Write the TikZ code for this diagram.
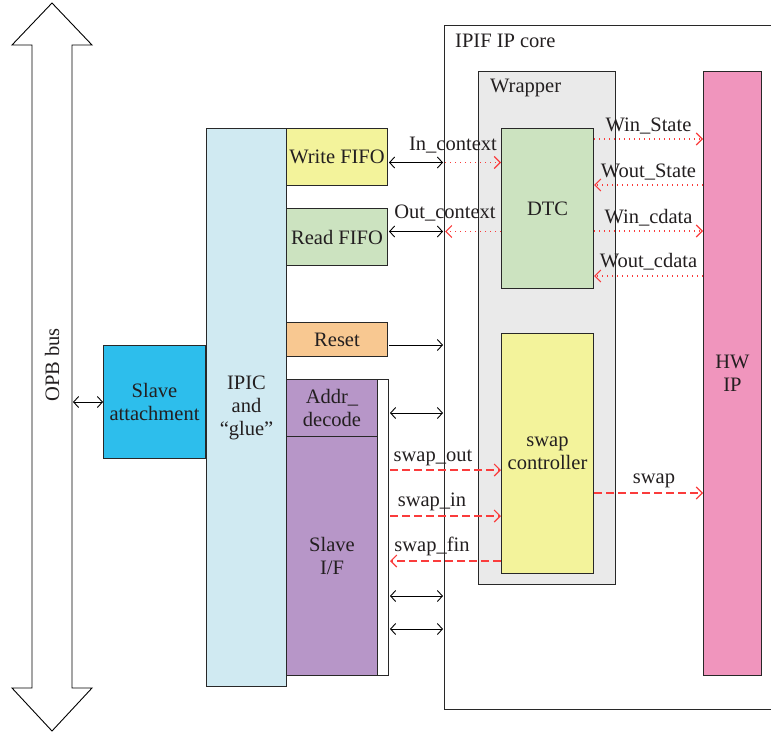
\documentclass[tikz,border=0pt]{standalone}
\usepackage{fontspec}
\setmainfont{Liberation Serif}
\usetikzlibrary{arrows.meta,calc}
\definecolor{txt}{RGB}{35,31,32}
\definecolor{edge}{RGB}{40,40,40}
\definecolor{cyanbox}{RGB}{45,190,236}
\definecolor{ipicbox}{RGB}{208,234,242}
\definecolor{yelbox}{RGB}{243,243,155}
\definecolor{grnbox}{RGB}{204,227,192}
\definecolor{orgbox}{RGB}{248,200,145}
\definecolor{purbox}{RGB}{183,150,200}
\definecolor{graybox}{RGB}{234,234,234}
\definecolor{pinkbox}{RGB}{240,149,189}
\definecolor{sigred}{RGB}{250,60,60}
\tikzset{
  every node/.style={text=txt, font=\fontsize{20.5}{23}\selectfont},
  blk/.style={draw=edge, line width=1pt, inner sep=0pt, anchor=north west, align=center},
  dbl/.style={draw=black, line width=0.9pt, {Straight Barb[length=5pt,width=11pt]}-{Straight Barb[length=5pt,width=11pt]}},
  sgl/.style={draw=black, line width=0.9pt, -{Straight Barb[length=5pt,width=11pt]}},
  dotsig/.style={draw=sigred, line width=1.1pt, dash pattern=on 1.1pt off 3.9pt, -{Straight Barb[length=6pt,width=12pt]}},
  dashsig/.style={draw=sigred, line width=1.1pt, dash pattern=on 8pt off 4pt, -{Straight Barb[length=6pt,width=12pt]}},
  lbl/.style={anchor=base, inner sep=0pt},
}
\begin{document}
\begin{tikzpicture}[x=1pt,y=-1pt]
\useasboundingbox (0,0) rectangle (771,734);

% OPB bus block arrow
\draw[line width=0.9pt, draw=black, fill=white, line join=miter]
  (52,3) -- (92,45) -- (72,45) -- (72,688) -- (92,688) -- (52,731)
  -- (12,688) -- (32,688) -- (32,45) -- (12,45) -- cycle;
\node[rotate=90, inner sep=0pt] (opb) at (52,365) {OPB bus};
\coordinate (busR) at (73,365);

% IPIF IP core frame and wrapper
\node[blk, minimum width=340pt, minimum height=684pt] (ipif) at (444,25) {};
\node[anchor=north west, inner sep=0pt] (ipiflbl) at (455,34) {IPIF IP core};
\node[blk, fill=graybox, minimum width=137pt, minimum height=513pt] (wrap) at (478,71) {};
\node[anchor=north west, inner sep=0pt] (wraplbl) at (490,79) {Wrapper};

% left-hand blocks
\node[blk, fill=cyanbox, minimum width=102pt, minimum height=113pt] (sa) at (103,345) {Slave\\attachment};
\node[blk, fill=ipicbox, minimum width=80pt, minimum height=558pt] (ipic) at (206,128) {IPIC\\and\\“glue”};
\node[blk, fill=yelbox, minimum width=101pt, minimum height=57pt] (wfifo) at (286,128) {\raisebox{-3pt}{Write FIFO}};
\node[blk, fill=grnbox, minimum width=101pt, minimum height=57pt] (rfifo) at (286,208) {\raisebox{-3pt}{Read FIFO}};
\node[blk, fill=orgbox, minimum width=101pt, minimum height=34pt] (reset) at (286,322) {Reset};
\node[blk, fill=white, minimum width=102pt, minimum height=296pt] (strip) at (286,379) {};
\node[blk, fill=purbox, minimum width=91pt, minimum height=57pt] (addr) at (286,379) {Addr\_\\decode};
\node[blk, fill=purbox, minimum width=91pt, minimum height=239pt] (sif) at (286,436) {Slave\\I/F};

% inner blocks
\node[blk, fill=grnbox, minimum width=92pt, minimum height=160pt] (dtc) at (501,128) {DTC};
\node[blk, fill=yelbox, minimum width=92pt, minimum height=240pt] (swapc) at (501,333) {swap\\controller};
\node[blk, fill=pinkbox, minimum width=58pt, minimum height=604pt] (hw) at (703,71) {HW\\IP};

% bus to slave attachment
\draw[dbl] (sa.west) -- (sa.west -| busR);

% FIFO context links
\coordinate (inc) at ([yshift=-5.5pt]wfifo.east);
\coordinate (outc) at ([yshift=5.5pt]rfifo.east);
\draw[dbl] ([xshift=1pt]inc) -- ([xshift=-1pt]inc -| ipif.west);
\draw[dotsig] ([xshift=1pt]inc -| ipif.west) -- (inc -| dtc.west);
\draw[dbl] ([xshift=1pt]outc) -- ([xshift=-1pt]outc -| ipif.west);
\draw[dotsig] (outc -| dtc.west) -- ([xshift=1pt]outc -| ipif.west);
\node[lbl] (linc) at (453,150) {In\_context};
\node[lbl] (loutc) at (445,218) {Out\_context};

% reset
\coordinate (rst) at ([yshift=-5.5pt]reset.east);
\draw[sgl] ([xshift=1pt]rst) -- ([xshift=-1pt]rst -| ipif.west);

% DTC to HW IP
\coordinate (w1) at (dtc.east |- 0,139);
\coordinate (w2) at (dtc.east |- 0,185);
\coordinate (w3) at (dtc.east |- 0,231);
\coordinate (w4) at (dtc.east |- 0,276);
\draw[dotsig] (w1) -- (w1 -| hw.west) node[lbl, pos=0.5, yshift=8pt] {Win\_State};
\draw[dotsig] (w2 -| hw.west) -- (w2) node[lbl, pos=0.5, yshift=8pt] {Wout\_State};
\draw[dotsig] (w3) -- (w3 -| hw.west) node[lbl, pos=0.5, yshift=8pt] {Win\_cdata};
\draw[dotsig] (w4 -| hw.west) -- (w4) node[lbl, pos=0.5, yshift=9pt] {Wout\_cdata};

% slave interface links
\coordinate (s1) at (strip.east |- 0,413);
\coordinate (s2) at (strip.east |- 0,470);
\coordinate (s3) at (strip.east |- 0,516);
\coordinate (s4) at (strip.east |- 0,561);
\coordinate (s5) at (strip.east |- 0,596);
\coordinate (s6) at (strip.east |- 0,629);
\draw[dbl] ([xshift=1pt]s1) -- ([xshift=-1pt]s1 -| ipif.west);
\draw[dashsig] ([xshift=1pt]s2) -- (s2 -| swapc.west);
\draw[dashsig] ([xshift=1pt]s3) -- (s3 -| swapc.west);
\draw[dashsig] (s4 -| swapc.west) -- ([xshift=1pt]s4);
\draw[dbl] ([xshift=1pt]s5) -- ([xshift=-1pt]s5 -| ipif.west);
\draw[dbl] ([xshift=1pt]s6) -- ([xshift=-1pt]s6 -| ipif.west);
\node[lbl] (lso) at (433,461) {swap\_out};
\node[lbl] (lsi) at (432,506) {swap\_in};
\node[lbl] (lsf) at (432,551) {swap\_fin};

% swap to HW IP
\coordinate (sw) at (swapc.east |- 0,493);
\draw[dashsig] (sw) -- (sw -| hw.west) node[lbl, pos=0.55, yshift=10pt] {swap};
\end{tikzpicture}
\end{document}
